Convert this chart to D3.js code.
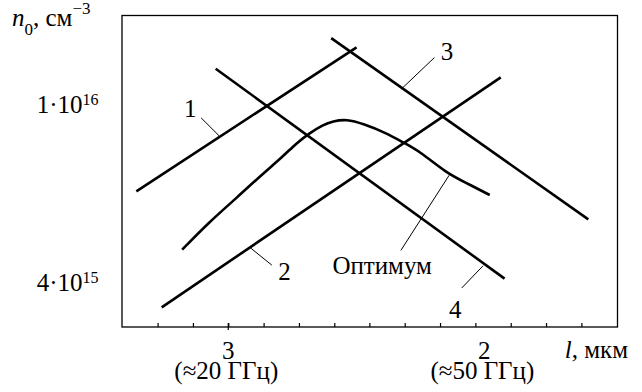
<!DOCTYPE html>
<html>
<head>
<meta charset="utf-8">
<script src="https://cdnjs.cloudflare.com/ajax/libs/d3/7.8.5/d3.min.js"></script>
<style>
  body { margin: 0; background: #fff; }
</style>
</head>
<body>
<div id="chart"></div>
<script>
// l, мкм  (x)   and  n0 in units of 1e15 cm^-3  (y, log)
const line1 = [[3.359, 6.41], [2.499, 13.44]];
const line2 = [[3.260, 3.53], [1.936, 11.52]];
const line3 = [[2.598, 14.09], [1.594, 5.55]];
const line4 = [[3.049, 12.04], [1.921, 4.09]];

const optL = [3.180, 3.072, 2.968, 2.877, 2.786, 2.734, 2.682, 2.630, 2.592, 2.538,
              2.473, 2.382, 2.317, 2.252, 2.148, 2.070, 1.979];
const optN = [4.75, 5.49, 6.19, 6.92, 7.67, 8.21, 8.65, 9.02, 9.19, 9.29,
              9.07, 8.65, 8.24, 7.87, 7.04, 6.69, 6.29];

// x ticks (minor ticks, major at 3)
const xTicks = [3.276, 3.138, 3.000, 2.862, 2.724, 2.586, 2.449, 2.311, 2.173, 2.035, 1.897, 1.759, 1.621];
const xLabels = [{ l: 3, main: "3", sub: "(≈20 ГГц)" }, { l: 2, main: "2", sub: "(≈50 ГГц)" }];
const yLabels = [{ n: 10, m: "1·10", e: "16" }, { n: 4, m: "4·10", e: "15" }];

// curve labels + leader lines
const curveLabels = [
  { t: "1", l: 3.148, n: 9.40 },
  { t: "2", l: 2.780, n: 4.06 },
  { t: "3", l: 2.146, n: 12.60 },
  { t: "4", l: 2.114, n: 3.337 },
  { t: "Оптимум", l: 2.399, n: 4.18 }
];
const leaders = [
  [[3.106, 9.35], [3.036, 8.53]],
  [[2.830, 4.385], [2.913, 4.79]],
  [[2.195, 12.75], [2.323, 10.86]],
  [[2.088, 3.90], [2.005, 4.37]],
  [[2.326, 4.73], [2.1375, 6.96]]
];

const W = 642, H = 392;
const mLeft = 122, mRight = 617.5, mTop = 15.5, mBottom = 327;
const serif = '"Liberation Serif", "Times New Roman", serif';
const fs = 25;

const svg = d3.select('#chart').append('svg')
  .attr('width', W).attr('height', H)
  .attr('font-family', serif);

const x = d3.scaleLinear().domain([3.415, 1.480]).range([mLeft, mRight]);
const y = d3.scaleLog().domain([3.19, 15.83]).range([mBottom, mTop]);

// frame
svg.append('rect')
  .attr('x', mLeft).attr('y', mTop)
  .attr('width', mRight - mLeft).attr('height', mBottom - mTop)
  .attr('fill', 'none').attr('stroke', '#000').attr('stroke-width', 1.3);

// bottom ticks pointing in
let ax = svg.append('g')
  .attr('transform', `translate(0,${mBottom})`)
  .call(d3.axisBottom(x).tickValues(xTicks).tickSize(-4).tickFormat(''));
ax.select('.domain').remove();
ax.selectAll('line').attr('stroke', '#000').attr('stroke-width', 1.2);

svg.append('line')
  .attr('x1', x(3)).attr('x2', x(3))
  .attr('y1', mBottom - 4).attr('y2', mBottom + 3)
  .attr('stroke', '#000').attr('stroke-width', 1.2);

function txt(sel) {
  return sel.append('text').attr('font-family', serif).attr('fill', '#000');
}

// x labels (value + frequency under it)
xLabels.forEach(d => {
  let t = txt(svg).attr('y', 359).attr('text-anchor', 'middle').attr('font-size', fs);
  t.append('tspan').attr('x', x(d.l)).text(d.main);
  t.append('tspan').attr('x', x(d.l) - 2).attr('dy', 20).text(d.sub);
});

let xt = txt(svg).attr('x', 628).attr('y', 358)
  .attr('text-anchor', 'end').attr('font-size', fs);
xt.append('tspan').attr('font-style', 'italic').text('l');
xt.append('tspan').text(', мкм');

// y labels
yLabels.forEach(d => {
  let t = txt(svg).attr('x', 98.5).attr('y', y(d.n) + 7.7)
    .attr('text-anchor', 'end').attr('font-size', fs);
  t.append('tspan').text(d.m);
  t.append('tspan').attr('dy', -8).attr('font-size', 16).text(d.e);
});

let yt = txt(svg).attr('x', 12).attr('y', 26).attr('font-size', fs);
yt.append('tspan').attr('font-style', 'italic').text('n');
yt.append('tspan').attr('dy', 9).attr('font-size', 17).text('0');
yt.append('tspan').attr('dy', -9).text(',  см');
yt.append('tspan').attr('dy', -12).attr('font-size', 17).text('−3');

// curves
const lineGen = d3.line().x(d => x(d[0])).y(d => y(d[1]));
[line1, line2, line3, line4].forEach(dd => {
  svg.append('path').datum(dd)
    .attr('d', lineGen)
    .attr('fill', 'none').attr('stroke', '#000').attr('stroke-width', 2.6);
});

const optData = optL.map((l, i) => [l, optN[i]]);
svg.append('path').datum(optData)
  .attr('d', lineGen.curve(d3.curveBasis))
  .attr('fill', 'none').attr('stroke', '#000').attr('stroke-width', 2.6)
  .attr('stroke-linejoin', 'round');

// leaders
leaders.forEach(d => {
  svg.append('line')
    .attr('x1', x(d[0][0])).attr('y1', y(d[0][1]))
    .attr('x2', x(d[1][0])).attr('y2', y(d[1][1]))
    .attr('stroke', '#000').attr('stroke-width', 1);
});

curveLabels.forEach(d => {
  txt(svg).attr('x', x(d.l)).attr('y', y(d.n))
    .attr('text-anchor', 'middle').attr('font-size', fs).text(d.t);
});
</script>
</body>
</html>
